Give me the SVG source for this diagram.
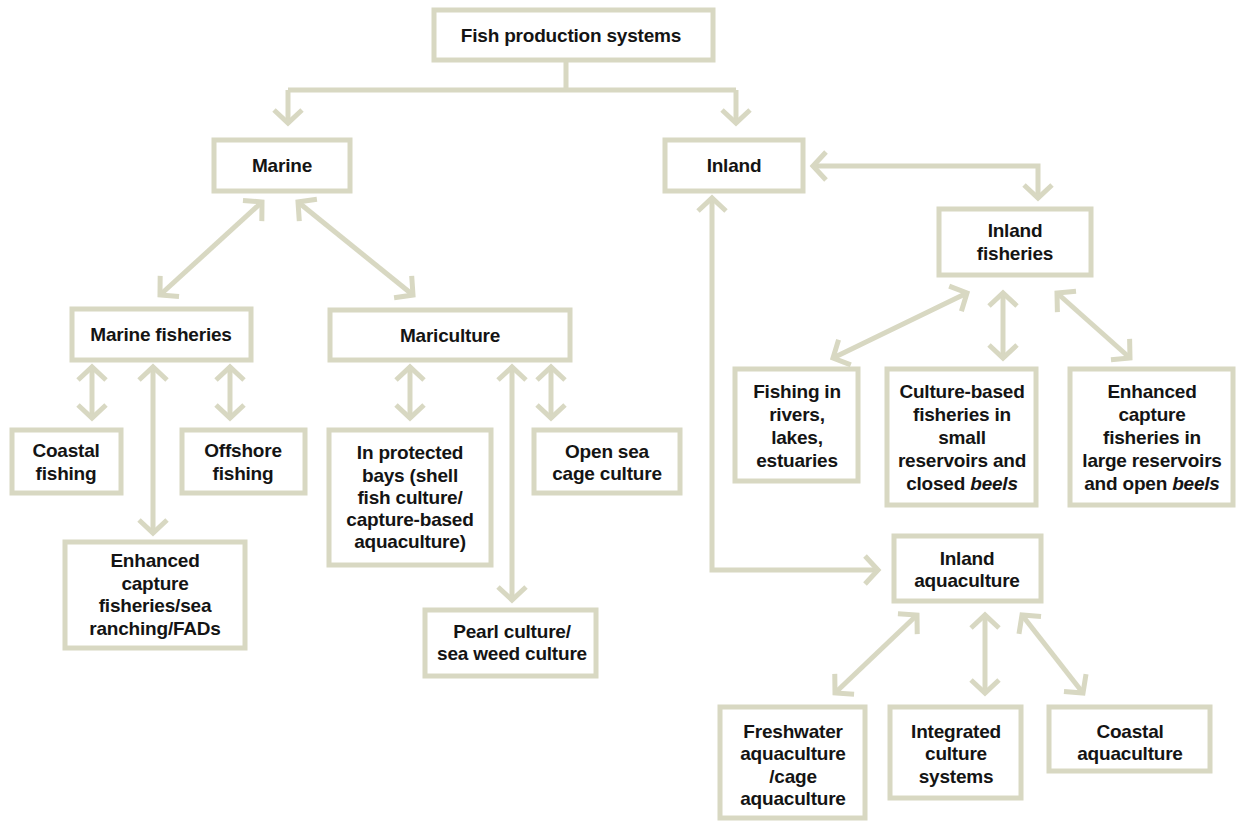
<svg xmlns="http://www.w3.org/2000/svg" width="1239" height="822" viewBox="0 0 1239 822">
<style>
.box{fill:#ffffff;stroke:#d8d8c2;stroke-width:5}
.t{font-family:"Liberation Sans",Arial,sans-serif;font-weight:bold;font-size:19px;letter-spacing:-0.2px;fill:#141414;text-anchor:middle}
.c{fill:none;stroke:#d8d8c2;stroke-width:5}
.a{marker-end:url(#ah)}
.b{marker-start:url(#ah);marker-end:url(#ah)}
</style>
<defs>
<marker id="ah" markerUnits="userSpaceOnUse" viewBox="-16 -16 20 32" refX="0" refY="0" markerWidth="20" markerHeight="32" orient="auto-start-reverse" overflow="visible">
<path d="M-13,-14 L0,0 L-13,14" fill="none" stroke="#d8d8c2" stroke-width="5"/>
</marker>
</defs>
<rect width="1239" height="822" fill="#ffffff"/>
<g id="connectors">
<path class="c" d="M566,60 V90 M288,90 H736"/>
<path class="c a" d="M288,90 V123"/>
<path class="c a" d="M736,90 V123"/>
<path class="c b" d="M813,166 H1038 V198"/>
<path class="c b" d="M712,198 V570 H878"/>
<path class="c b" d="M262,202 L160,295"/>
<path class="c b" d="M298,202 L413,295"/>
<path class="c b" d="M92,367 V418"/>
<path class="c b" d="M153,367 V533"/>
<path class="c b" d="M230,367 V418"/>
<path class="c b" d="M410,367 V418"/>
<path class="c b" d="M512,367 V600"/>
<path class="c b" d="M551,367 V418"/>
<path class="c b" d="M967,293 L833,358"/>
<path class="c b" d="M1003,293 V358"/>
<path class="c b" d="M1057,293 L1130,358"/>
<path class="c b" d="M917,615 L835,693"/>
<path class="c b" d="M985,615 V693"/>
<path class="c b" d="M1022,615 L1083,693"/>
</g>
<g id="fish-production-systems"><rect class="box" x="434" y="10" width="279" height="50"/><text class="t" x="571" y="42">Fish production systems</text></g>
<g id="marine"><rect class="box" x="214" y="140" width="136" height="51"/><text class="t" x="282" y="172">Marine</text></g>
<g id="inland"><rect class="box" x="665" y="140" width="138" height="51"/><text class="t" x="734" y="172">Inland</text></g>
<g id="inland-fisheries"><rect class="box" x="939" y="209" width="152" height="66"/><text class="t" x="1015" y="237">Inland</text><text class="t" x="1015" y="260">fisheries</text></g>
<g id="marine-fisheries"><rect class="box" x="72" y="309" width="179" height="51"/><text class="t" x="161" y="341">Marine fisheries</text></g>
<g id="mariculture"><rect class="box" x="330" y="310" width="240" height="50"/><text class="t" x="450" y="342">Mariculture</text></g>
<g id="coastal-fishing"><rect class="box" x="12" y="430" width="109" height="63"/><text class="t" x="66" y="457">Coastal</text><text class="t" x="66" y="480">fishing</text></g>
<g id="offshore-fishing"><rect class="box" x="182" y="430" width="123" height="63"/><text class="t" x="243" y="457">Offshore</text><text class="t" x="243" y="480">fishing</text></g>
<g id="enhanced-capture-sea"><rect class="box" x="65" y="542" width="180" height="106"/><text class="t" x="155" y="567">Enhanced</text><text class="t" x="155" y="590">capture</text><text class="t" x="155" y="612">fisheries/sea</text><text class="t" x="155" y="635">ranching/FADs</text></g>
<g id="protected-bays"><rect class="box" x="329" y="430" width="162" height="135"/><text class="t" x="410" y="459">In protected</text><text class="t" x="410" y="482">bays (shell</text><text class="t" x="410" y="504">fish culture/</text><text class="t" x="410" y="526">capture-based</text><text class="t" x="410" y="548">aquaculture)</text></g>
<g id="open-sea"><rect class="box" x="534" y="430" width="146" height="63"/><text class="t" x="607" y="458">Open sea</text><text class="t" x="607" y="480">cage culture</text></g>
<g id="pearl-culture"><rect class="box" x="425" y="610" width="171" height="66"/><text class="t" x="512" y="638">Pearl culture/</text><text class="t" x="512" y="660">sea weed culture</text></g>
<g id="fishing-rivers"><rect class="box" x="735" y="369" width="123" height="112"/><text class="t" x="797" y="398">Fishing in</text><text class="t" x="797" y="421">rivers,</text><text class="t" x="797" y="444">lakes,</text><text class="t" x="797" y="467">estuaries</text></g>
<g id="culture-based"><rect class="box" x="887" y="369" width="149" height="136"/><text class="t" x="962" y="398">Culture-based</text><text class="t" x="962" y="421">fisheries in</text><text class="t" x="962" y="444">small</text><text class="t" x="962" y="467">reservoirs and</text><text class="t" x="962" y="490">closed <tspan font-style="italic">beels</tspan></text></g>
<g id="enhanced-capture-large"><rect class="box" x="1070" y="369" width="163" height="136"/><text class="t" x="1152" y="398">Enhanced</text><text class="t" x="1152" y="421">capture</text><text class="t" x="1152" y="444">fisheries in</text><text class="t" x="1152" y="467">large reservoirs</text><text class="t" x="1152" y="490">and open <tspan font-style="italic">beels</tspan></text></g>
<g id="inland-aquaculture"><rect class="box" x="894" y="536" width="147" height="65"/><text class="t" x="967" y="565">Inland</text><text class="t" x="967" y="587">aquaculture</text></g>
<g id="freshwater"><rect class="box" x="720" y="707" width="145" height="111"/><text class="t" x="793" y="738">Freshwater</text><text class="t" x="793" y="760">aquaculture</text><text class="t" x="793" y="783">/cage</text><text class="t" x="793" y="805">aquaculture</text></g>
<g id="integrated"><rect class="box" x="890" y="707" width="131" height="91"/><text class="t" x="956" y="738">Integrated</text><text class="t" x="956" y="760">culture</text><text class="t" x="956" y="783">systems</text></g>
<g id="coastal-aquaculture"><rect class="box" x="1049" y="707" width="161" height="64"/><text class="t" x="1130" y="738">Coastal</text><text class="t" x="1130" y="760">aquaculture</text></g>
</svg>
